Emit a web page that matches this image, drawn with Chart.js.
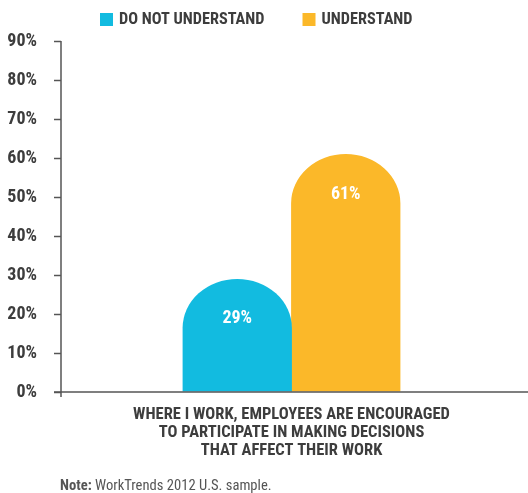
<!DOCTYPE html>
<html>
<head>
<meta charset="utf-8">
<script src="https://cdn.jsdelivr.net/npm/chart.js@4/dist/chart.umd.min.js"></script>
<style>
  html, body { margin: 0; padding: 0; background: #fff; }
  #wrap { width: 528px; height: 493px; }
</style>
</head>
<body>
<div id="wrap"><canvas id="c" width="528" height="493"></canvas></div>
<script>
// ---- data ----
const categories = [[
  "WHERE I WORK, EMPLOYEES ARE ENCOURAGED",
  "TO PARTICIPATE IN MAKING DECISIONS",
  "THAT AFFECT THEIR WORK"
]];
const seriesNames = ["DO NOT UNDERSTAND", "UNDERSTAND"];
const doNotUnderstand = [29];
const understand = [61];
const yTickLabels = ["0%", "10%", "20%", "30%", "40%", "50%", "60%", "70%", "80%", "90%"];
const noteLabel = "Note:";
const noteText = " WorkTrends 2012 U.S. sample.";

// ---- styling ----
const FONT = "'Roboto Condensed', Roboto, sans-serif";
const INK = "#3d3d3d";
const AXIS = "#555555";
const CYAN = "#12bbe0";
const GOLD = "#fbb829";

Chart.defaults.font.family = FONT;

// Bars with an elliptical cap instead of a flat top
const archBars = {
  id: "archBars",
  beforeDatasetDraw(chart, args) {
    const ctx = chart.ctx;
    const ds = chart.data.datasets[args.index];
    ctx.save();
    ctx.fillStyle = ds.backgroundColor;
    args.meta.data.forEach(el => {
      const { x, y, base, width } = el.getProps(["x", "y", "base", "width"], true);
      const rx = width / 2 + 0.4;
      const ry = rx * 0.9;
      ctx.beginPath();
      ctx.moveTo(x - rx, base);
      ctx.lineTo(x - rx, y + ry);
      ctx.ellipse(x, y + ry, rx, ry, 0, Math.PI, 2 * Math.PI);
      ctx.lineTo(x + rx, base);
      ctx.closePath();
      ctx.fill();
    });
    ctx.restore();
    return false;
  },
  afterDatasetsDraw(chart) {
    const ctx = chart.ctx;
    ctx.save();
    ctx.fillStyle = "#ffffff";
    ctx.font = "bold 18px " + FONT;
    ctx.textAlign = "center";
    ctx.textBaseline = "middle";
    chart.data.datasets.forEach((ds, i) => {
      chart.getDatasetMeta(i).data.forEach((el, j) => {
        ctx.fillText(ds.data[j] + "%", el.x, el.y + 40);
      });
    });
    ctx.restore();
  }
};

// Axis lines, legend row and footnote
const frame = {
  id: "frame",
  afterDraw(chart) {
    const ctx = chart.ctx;
    const area = chart.chartArea;
    const yScale = chart.scales.y;
    ctx.save();
    ctx.strokeStyle = AXIS;
    ctx.lineWidth = 1.5;
    ctx.beginPath();
    ctx.moveTo(area.left, yScale.getPixelForValue(yScale.max));
    ctx.lineTo(area.left, area.bottom + 5);
    ctx.moveTo(area.left - 7, area.bottom);
    ctx.lineTo(chart.width, area.bottom);
    ctx.stroke();

    // legend
    ctx.font = "bold 16.3px " + FONT;
    ctx.textBaseline = "middle";
    ctx.textAlign = "left";
    let lx = 100;
    chart.data.datasets.forEach(ds => {
      ctx.fillStyle = ds.backgroundColor;
      ctx.fillRect(lx, 13, 13, 13);
      ctx.fillStyle = INK;
      ctx.fillText(ds.label, lx + 19, 20);
      lx += 19 + ctx.measureText(ds.label).width + 38;
    });

    // footnote
    ctx.fillStyle = "#555555";
    ctx.font = "bold 14.6px " + FONT;
    ctx.fillText(noteLabel, 60, 486);
    const w = ctx.measureText(noteLabel).width;
    ctx.font = "14.6px " + FONT;
    ctx.fillText(noteText, 60 + w, 486);
    ctx.restore();
  }
};

new Chart(document.getElementById("c"), {
  type: "bar",
  data: {
    labels: categories,
    datasets: [
      { label: seriesNames[0], data: doNotUnderstand, backgroundColor: CYAN },
      { label: seriesNames[1], data: understand, backgroundColor: GOLD }
    ]
  },
  options: {
    responsive: false,
    animation: false,
    devicePixelRatio: 1,
    layout: { padding: { top: 41, right: 6, bottom: 19, left: 0 } },
    datasets: { bar: { barPercentage: 1, categoryPercentage: 0.4707 } },
    plugins: {
      legend: { display: false },
      tooltip: { enabled: false }
    },
    scales: {
      x: {
        offset: true,
        grid: { display: false, drawTicks: false },
        border: { display: false },
        ticks: {
          color: INK,
          font: { size: 16.5, weight: "bold", lineHeight: 1.09 },
          padding: 14,
          maxRotation: 0,
          autoSkip: false
        }
      },
      y: {
        min: 0,
        max: 90,
        border: { display: false },
        grid: { drawOnChartArea: false, drawTicks: true, tickLength: 7, tickColor: AXIS, tickWidth: 1.5 },
        ticks: {
          stepSize: 10,
          color: INK,
          font: { size: 18, weight: "bold" },
          padding: 17,
          callback: (v, i) => yTickLabels[i]
        },
        afterFit(scale) { scale.width = 61; }
      }
    }
  },
  plugins: [archBars, frame]
});
</script>
</body>
</html>
